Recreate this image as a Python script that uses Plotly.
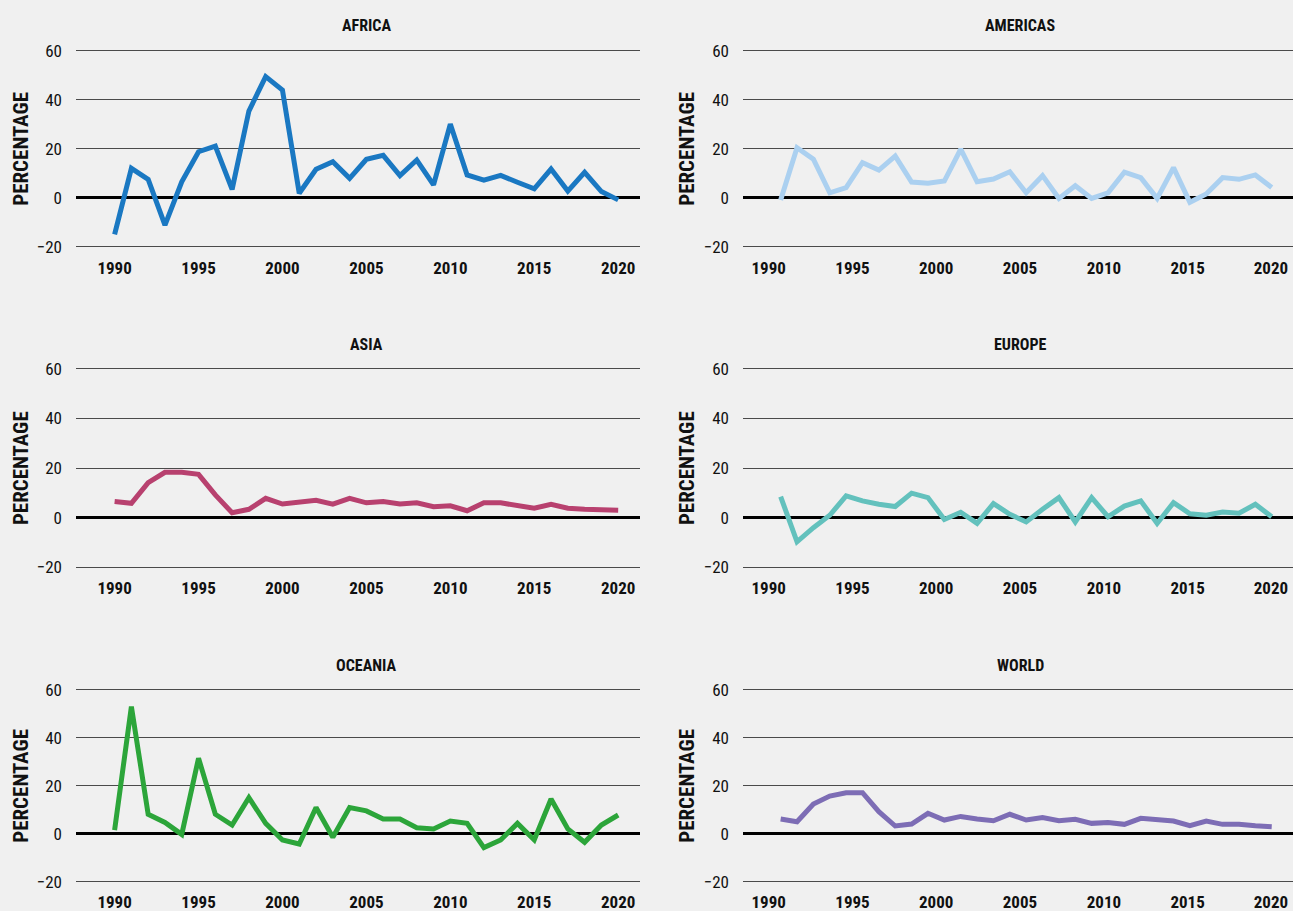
import plotly.graph_objects as go
from plotly.subplots import make_subplots

years = list(range(1990, 2021))

africa = [-15.0, 12.0, 7.5, -11.2, 6.5, 18.8, 21.1, 3.4, 35.4, 49.5, 44.0, 1.8, 11.6, 14.7, 7.9, 15.7,
          17.3, 9.0, 15.4, 5.2, 30.1, 9.3, 7.2, 9.1, 6.3, 3.6, 11.7, 2.7, 10.4, 2.5, -0.9]
americas = [-0.9, 20.4, 15.7, 2.0, 4.1, 14.3, 11.3, 17.0, 6.4, 5.9, 6.8, 19.8, 6.5, 7.6, 10.6, 2.0,
            9.0, -0.3, 4.9, -0.3, 2.0, 10.4, 8.2, -0.3, 12.3, -1.9, 1.5, 8.2, 7.5, 9.3, 4.2]
asia = [6.5, 5.8, 14.1, 18.3, 18.3, 17.5, 9.2, 2.0, 3.4, 7.8, 5.5, 6.5, 7.0, 5.5, 7.8, 6.0,
        6.5, 5.5, 6.0, 4.4, 4.8, 2.8, 6.0, 6.0, 4.8, 3.8, 5.4, 3.8, 3.4, 3.0, 3.0]
europe = [8.5, -9.7, -4.0, 1.0, 8.8, 6.8, 5.4, 4.5, 9.9, 8.1, -0.7, 2.2, -2.3, 5.7, 1.4, -1.7,
          3.4, 8.1, -1.7, 8.1, 0.4, 4.7, 6.8, -2.3, 6.1, 1.6, 1.0, 2.3, 1.8, 5.4, 0.4]
oceania = [1.5, 53.0, 8.1, 4.7, -0.3, 31.5, 8.1, 3.6, 15.0, 4.3, -2.6, -4.3, 10.9, -1.5, 10.9, 9.5,
           6.1, 6.1, 2.5, 2.0, 5.3, 4.3, -5.8, -2.6, 4.3, -2.6, 14.5, 2.0, -3.6, 3.6, 7.8]
world = [6.1, 5.0, 12.4, 15.7, 17.1, 17.1, 9.2, 3.2, 4.0, 8.5, 5.7, 7.2, 6.1, 5.4, 8.1, 5.7,
         6.7, 5.4, 6.0, 4.3, 4.7, 3.9, 6.4, 6.0, 5.3, 3.3, 5.3, 3.9, 3.9, 3.3, 2.9]

regions = ["AFRICA", "AMERICAS", "ASIA", "EUROPE", "OCEANIA", "WORLD"]
series = [africa, americas, asia, europe, oceania, world]
colors = ["#1a78c2", "#abd0f0", "#b8416f", "#63c1bd", "#2ca53a", "#7d6db5"]

tick_years = [1990, 1995, 2000, 2005, 2010, 2015, 2020]
# right-hand panels print their year labels slightly offset from the data
right_tickvals = [1989.27, 1994.39, 1999.5, 2004.62, 2009.75, 2014.86, 2019.95]

FONT = "Roboto Condensed, Liberation Sans Narrow, DejaVu Sans Condensed, Roboto, sans-serif"
W, H = 1293, 911

fig = make_subplots(rows=3, cols=2)

for i, (name, vals, col) in enumerate(zip(regions, series, colors)):
    fig.add_trace(
        go.Scatter(x=years, y=vals, mode="lines", name=name,
                   line=dict(color=col, width=5), showlegend=False),
        row=i // 2 + 1, col=i % 2 + 1
    )

# pixel layout of the panels
x_dom = [(76, 640), (743, 1293)]
y_dom = [(46.0, 251.5), (363.9, 572.3), (685.1, 886.4)]

for i in range(6):
    r, c = i // 2, i % 2
    n = "" if i == 0 else str(i + 1)
    x0, x1 = x_dom[c]
    y0, y1 = y_dom[r]
    fig.layout["xaxis" + n].update(
        domain=[x0 / W, x1 / W], range=[1987.7, 2021.3], automargin=False,
        tickvals=tick_years if c == 0 else right_tickvals,
        ticktext=[str(t) for t in tick_years],
        showgrid=False, zeroline=False, showline=False, ticks="",
        ticklabelstandoff=4,
        tickfont=dict(family=FONT, size=17, color="#111", weight="bold"),
    )
    fig.layout["yaxis" + n].update(
        domain=[1 - y1 / H, 1 - y0 / H], range=[-22, 62], automargin=False,
        tickvals=[-20, 0, 20, 40, 60], ticktext=["\u221220", "0", "20", "40", "60"],
        showgrid=True, gridcolor="#4a4a4a", gridwidth=1,
        zeroline=True, zerolinecolor="#000", zerolinewidth=3,
        showline=False, ticks="", ticklabelstandoff=13,
        tickfont=dict(family=FONT, size=17, color="#111"),
    )

title_x = [366, 1020]
title_y = [25, 345, 665]
ytitle_x = [21, 687]
for i, name in enumerate(regions):
    r, c = i // 2, i % 2
    fig.add_annotation(x=title_x[c] / W, y=1 - title_y[r] / H, xref="paper", yref="paper",
                       text=name, showarrow=False, xanchor="center", yanchor="middle",
                       font=dict(family=FONT, size=16, color="#111", weight="bold"))
    yc = (y_dom[r][0] + y_dom[r][1]) / 2
    fig.add_annotation(x=ytitle_x[c] / W, y=1 - yc / H, xref="paper", yref="paper",
                       text="PERCENTAGE", textangle=-90, showarrow=False,
                       xanchor="center", yanchor="middle",
                       font=dict(family=FONT, size=21, color="#111", weight="bold"))

fig.update_layout(
    width=W, height=H,
    margin=dict(l=0, r=0, t=0, b=0),
    paper_bgcolor="#f0f0f0", plot_bgcolor="#f0f0f0",
)

# drop the page's default body margin so the figure fills the window
fig.write_html("out.html", config={"displayModeBar": False},
               post_script="document.body.style.margin='0';document.body.style.overflow='hidden';")
